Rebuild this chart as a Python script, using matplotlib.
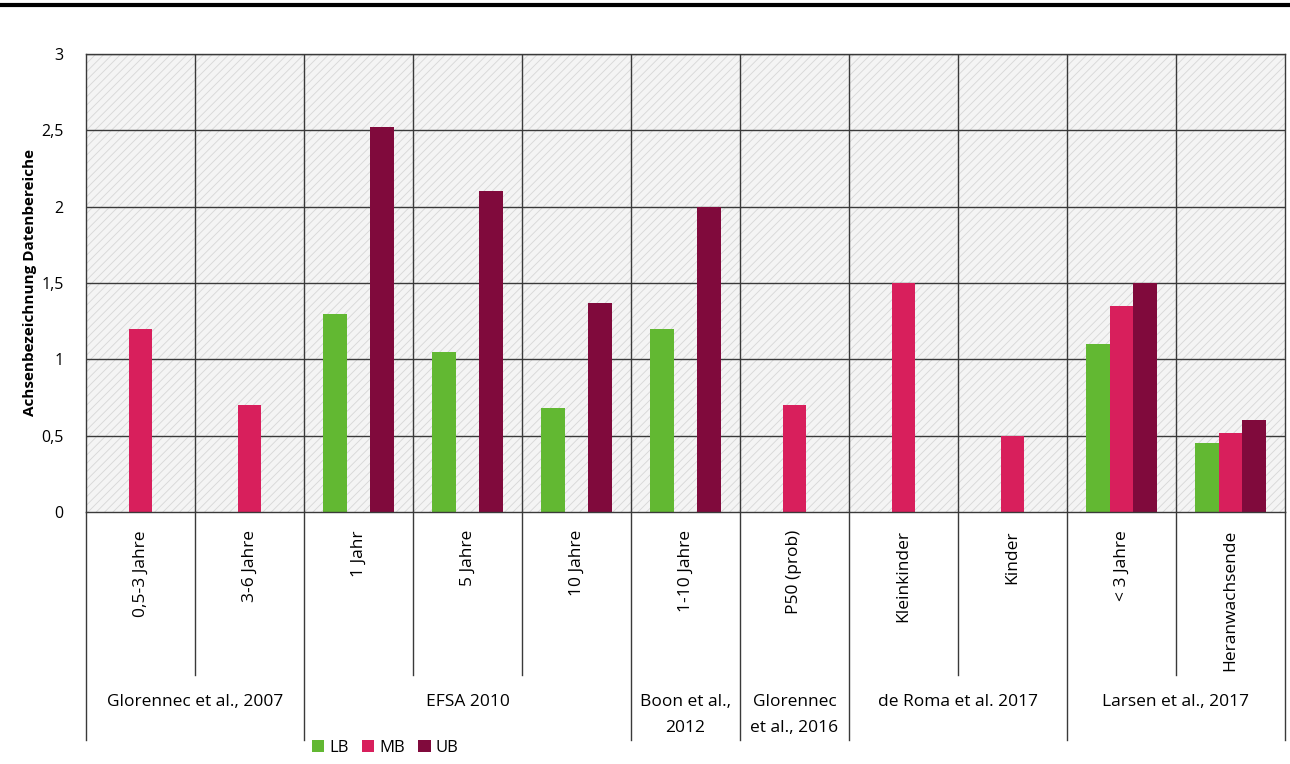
import numpy as np
import matplotlib.pyplot as plt
from matplotlib.patches import Rectangle
from matplotlib.lines import Line2D

plt.rcParams['font.family'] = ['Open Sans', 'DejaVu Sans']
plt.rcParams['hatch.linewidth'] = 0.6

categories = ['0,5-3 Jahre', '3-6 Jahre', '1 Jahr', '5 Jahre', '10 Jahre', '1-10 Jahre',
              'P50 (prob)', 'Kleinkinder', 'Kinder', '< 3 Jahre', 'Heranwachsende']
groups = ['Glorennec et al., 2007', 'EFSA 2010', 'Boon et al.,\n2012', 'Glorennec\net al., 2016',
          'de Roma et al. 2017', 'Larsen et al., 2017']
group_sizes = [2, 3, 1, 1, 2, 2]

lb = [np.nan, np.nan, 1.30, 1.05, 0.68, 1.20, np.nan, np.nan, np.nan, 1.10, 0.45]
mb = [1.20, 0.70, np.nan, np.nan, np.nan, np.nan, 0.70, 1.50, 0.50, 1.35, 0.52]
ub = [np.nan, np.nan, 2.52, 2.10, 1.37, 2.00, np.nan, np.nan, np.nan, 1.50, 0.60]

c_lb, c_mb, c_ub = '#62b832', '#d81f5c', '#800a3c'

fig = plt.figure(figsize=(12.9, 7.64), dpi=100)
ax = fig.add_axes([86 / 1290, 1 - 512 / 764, 1199 / 1290, 458 / 764])

n = len(categories)
x = np.arange(n)
w = 0.22

ax.set_xlim(-0.5, n - 0.5)
ax.set_ylim(0, 3)

# hatched background
ax.set_facecolor('#f4f4f4')
ax.add_patch(Rectangle((0, 0), 1, 1, transform=ax.transAxes, facecolor='none',
                       edgecolor='#d6d6d6', hatch='////', lw=0, zorder=0))

# grid
for yv in np.arange(0.5, 3.01, 0.5):
    ax.axhline(yv, color='#3a3a3a', lw=1, zorder=1)
for xv in np.arange(0.5, n - 0.5, 1):
    ax.axvline(xv, color='#3a3a3a', lw=1, zorder=1)

ax.bar(x - w, lb, w, color=c_lb, zorder=2, label='LB')
ax.bar(x, mb, w, color=c_mb, zorder=2, label='MB')
ax.bar(x + w, ub, w, color=c_ub, zorder=2, label='UB')

for s in ['top', 'right', 'left', 'bottom']:
    ax.spines[s].set_color('#3a3a3a')
    ax.spines[s].set_linewidth(1)

ax.set_yticks(np.arange(0, 3.01, 0.5))
ax.set_yticklabels(['0', '0,5', '1', '1,5', '2', '2,5', '3'], fontsize=11.5)
ax.tick_params(axis='y', length=0, pad=16)
ax.set_xticks(x)
ax.set_xticklabels(categories, rotation=90, fontsize=12.5, va='top')
ax.tick_params(axis='x', length=0, pad=13)

# separators below the axis
tr = ax.get_xaxis_transform()
bounds = np.cumsum([0] + group_sizes) - 0.5
for xv in np.arange(-0.5, n, 1):
    ybot = -0.498 if np.any(np.isclose(bounds, xv)) else -0.356
    ax.add_line(Line2D([xv, xv], [0, ybot], transform=tr, color='#3a3a3a', lw=1, clip_on=False))

for i, g in enumerate(groups):
    cx = (bounds[i] + bounds[i + 1]) / 2
    ax.text(cx, -0.398, g, transform=tr, ha='center', va='top', fontsize=12.5,
            linespacing=1.8)

fig.text(30 / 1290, 1 - 283 / 764, 'Achsenbezeichnung Datenbereiche', rotation=90,
         ha='center', va='center', fontsize=11, fontweight='bold')

fig.add_artist(Line2D([0, 1], [1 - 4.5 / 764, 1 - 4.5 / 764], color='black', lw=3))

fig.legend(loc='center', bbox_to_anchor=(385 / 1290, 1 - 748 / 764), ncol=3, frameon=False,
           fontsize=12, handlelength=0.75, handleheight=0.75, handletextpad=0.3,
           columnspacing=0.8)

fig.savefig('out.png', dpi=100)
